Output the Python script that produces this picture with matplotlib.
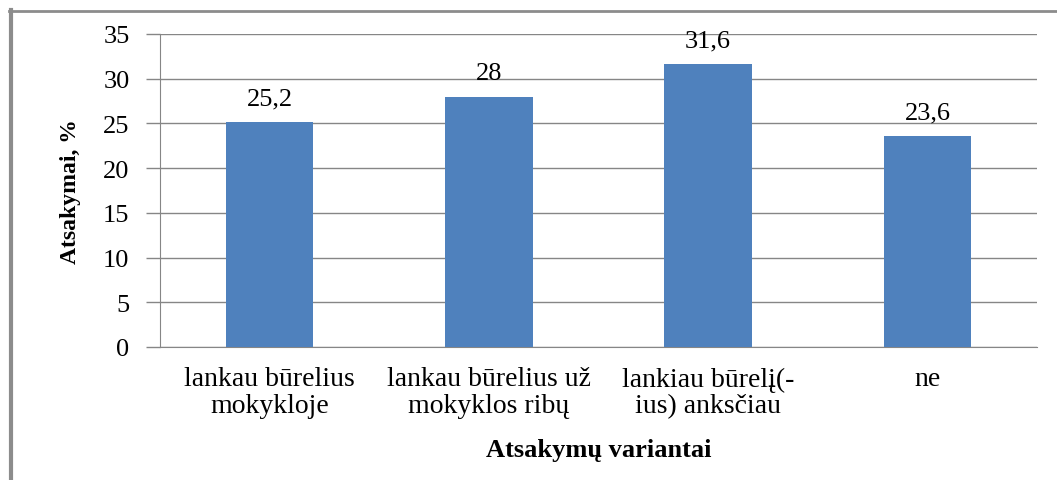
import matplotlib.pyplot as plt
from matplotlib.lines import Line2D

# duomenys
categories = ["lankau būrelius\nmokykloje", "lankau būrelius už\nmokyklos ribų",
              "lankiau būrelį(-\nius) anksčiau", "ne"]
values = [25.2, 28, 31.6, 23.6]
value_labels = ["25,2", "28", "31,6", "23,6"]
yticks = [0, 5, 10, 15, 20, 25, 30, 35]

plt.rcParams['font.family'] = ['Liberation Serif', 'DejaVu Serif']

fig = plt.figure(figsize=(10.57, 4.81), dpi=100)
ax = fig.add_axes([160 / 1057, 1 - 348 / 481, (1037 - 160) / 1057, (348 - 35) / 481])

x = range(len(categories))
bars = ax.bar(x, values, width=0.4, color="#4F81BD", zorder=3)
for b, lab in zip(bars, value_labels):
    ax.text(b.get_x() + b.get_width() / 2, b.get_height() + 1.4, lab,
            ha="center", va="bottom", fontsize=19)

ax.set_xlim(-0.5, len(categories) - 0.5)
ax.set_ylim(0, 35)
ax.set_yticks(yticks)
ax.set_yticklabels([str(t) for t in yticks], fontsize=19)
ax.set_xticks(list(x))
ax.set_xticklabels(categories, fontsize=20, linespacing=1.1)
ax.tick_params(axis="x", length=0, pad=14)
ax.tick_params(axis="y", length=10, width=1, color="#868686", pad=12)

ax.grid(axis="y", color="#868686", linewidth=1, zorder=0)
for s in ["top", "right"]:
    ax.spines[s].set_visible(False)
ax.spines["left"].set_color("#868686")
ax.spines["bottom"].set_color("#868686")

ax.set_xlabel("Atsakymų variantai", fontsize=19, fontweight="bold", labelpad=14)
ax.set_ylabel("Atsakymai, %", fontsize=17, fontweight="bold", labelpad=16)

# rėmelis
fig.add_artist(Line2D([10.5 / 1057, 10.5 / 1057], [0, 1 - 11 / 481],
                      transform=fig.transFigure, color="#8C8C8C", linewidth=3))
fig.add_artist(Line2D([9 / 1057, 1], [1 - 12 / 481, 1 - 12 / 481],
                      transform=fig.transFigure, color="#8C8C8C", linewidth=2))

fig.savefig("out.png", dpi=100)
